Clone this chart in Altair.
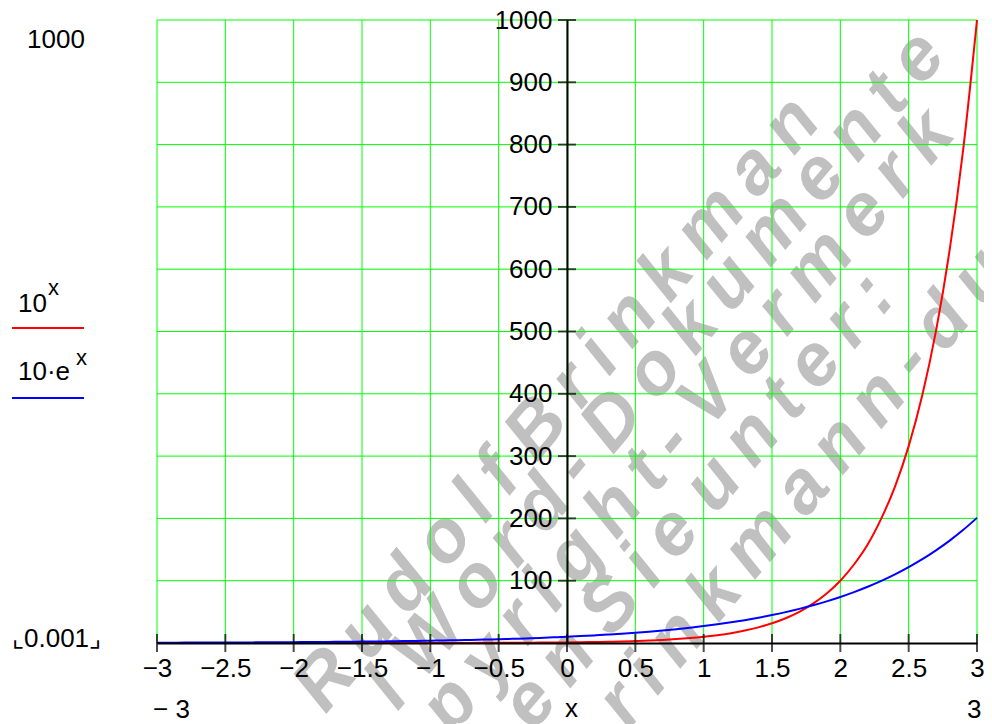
import altair as alt
import pandas as pd

# ---------------- data ----------------
x_vals = [-3.0, -2.9, -2.8, -2.7, -2.6, -2.5, -2.4, -2.3, -2.2, -2.1,
          -2.0, -1.9, -1.8, -1.7, -1.6, -1.5, -1.4, -1.3, -1.2, -1.1,
          -1.0, -0.9, -0.8, -0.7, -0.6, -0.5, -0.4, -0.3, -0.2, -0.1,
          0.0, 0.1, 0.2, 0.3, 0.4, 0.5, 0.6, 0.7, 0.8, 0.9,
          1.0, 1.1, 1.2, 1.3, 1.4, 1.5, 1.6, 1.7, 1.8, 1.9,
          2.0, 2.1, 2.2, 2.3, 2.4, 2.5, 2.6, 2.7, 2.8, 2.9, 3.0]

# 10^x
red_vals = [0.001, 0.0013, 0.0016, 0.002, 0.0025, 0.0032, 0.004, 0.005, 0.0063, 0.0079,
            0.01, 0.0126, 0.0158, 0.02, 0.0251, 0.0316, 0.0398, 0.0501, 0.0631, 0.0794,
            0.1, 0.126, 0.158, 0.2, 0.251, 0.316, 0.398, 0.501, 0.631, 0.794,
            1.0, 1.26, 1.58, 2.0, 2.51, 3.16, 3.98, 5.01, 6.31, 7.94,
            10.0, 12.6, 15.8, 20.0, 25.1, 31.6, 39.8, 50.1, 63.1, 79.4,
            100.0, 126.0, 158.0, 200.0, 251.0, 316.0, 398.0, 501.0, 631.0, 794.0, 1000.0]

# 10*e^x
blue_vals = [0.498, 0.55, 0.608, 0.672, 0.743, 0.821, 0.907, 1.003, 1.108, 1.225,
             1.353, 1.496, 1.653, 1.827, 2.019, 2.231, 2.466, 2.725, 3.012, 3.329,
             3.679, 4.066, 4.493, 4.966, 5.488, 6.065, 6.703, 7.408, 8.187, 9.048,
             10.0, 11.05, 12.21, 13.5, 14.92, 16.49, 18.22, 20.14, 22.26, 24.6,
             27.18, 30.04, 33.2, 36.69, 40.55, 44.82, 49.53, 54.74, 60.5, 66.86,
             73.89, 81.66, 90.25, 99.74, 110.2, 121.8, 134.6, 148.8, 164.4, 181.7, 200.9]

series_names = ["10^x", "10·e^x"]
series_colors = ["#ff0000", "#0000ff"]

x_ticks = [-3, -2.5, -2, -1.5, -1, -0.5, 0, 0.5, 1, 1.5, 2, 2.5, 3]
y_ticks = [100, 200, 300, 400, 500, 600, 700, 800, 900, 1000]

watermark_lines = ["Rudolf Brinkman", "l Word- Dokumente", "pyright- Vermerk",
                   "en Sie unter:", "rinkmann-du.de"]

FONT = "Liberation Sans, Arial, sans-serif"

# ---------------- tables ----------------
curve_df = pd.DataFrame({
    "x": x_vals * 2,
    "value": red_vals + blue_vals,
    "series": [series_names[0]] * len(x_vals) + [series_names[1]] * len(x_vals),
})

xscale = alt.Scale(domain=[-3, 3], nice=False, zero=False)
yscale = alt.Scale(domain=[0, 1000], nice=False, zero=False)

common_axis = dict(grid=False, ticks=False, domain=True, domainColor="black",
                   domainWidth=2, labelFontSize=26, labelFont=FONT,
                   labelColor="black", labelOverlap=False, labelFlush=False,
                   title=None, zindex=1)

x_axis = alt.Axis(values=x_ticks, labelPadding=12, format="~g", **common_axis)
y_axis = alt.Axis(values=y_ticks, labelPadding=15, offset=-410, format="d", **common_axis)


def X(field):
    return alt.X(field, scale=xscale, axis=x_axis)


def Y(field):
    return alt.Y(field, scale=yscale, axis=y_axis)


def one(txt):
    return pd.DataFrame({"t": [txt]})


def label(txt, x, y, size=26, align="left", baseline="alphabetic"):
    return alt.Chart(one(txt)).mark_text(
        align=align, baseline=baseline, fontSize=size, font=FONT, color="black"
    ).encode(x=alt.value(x), y=alt.value(y), text="t:N")


def spaced(s):
    # the watermark is set with a little extra letter spacing
    return " ".join("\u2009".join(list(w)) for w in s.split(" "))


# watermark (drawn first, beneath everything)
wm_pos = [(649, 88, "right"), (774, 22, "right"), (783, 101, "right"),
          (724, 264, "right"), (455, 696, "left")]
wm_layers = []
for txt, (px, py, al) in zip(watermark_lines, wm_pos):
    wm_layers.append(
        alt.Chart(one(spaced(txt))).mark_text(
            align=al, baseline="middle", angle=310, fontSize=74, font=FONT,
            fontStyle="italic", fontWeight="bold", color="#c0c0c0"
        ).encode(x=alt.value(px), y=alt.value(py), text="t:N")
    )

# grid
xgrid = alt.Chart(pd.DataFrame({"x": x_ticks})).mark_rule(
    color="#00ff00", strokeWidth=1
).encode(x=X("x:Q"))

ygrid = alt.Chart(pd.DataFrame({"y": y_ticks})).mark_rule(
    color="#00ff00", strokeWidth=1
).encode(y=Y("y:Q"))

# curves
curves = alt.Chart(curve_df).mark_line(strokeWidth=2, interpolate="monotone").encode(
    x=X("x:Q"),
    y=Y("value:Q"),
    color=alt.Color("series:N", scale=alt.Scale(domain=series_names, range=series_colors),
                    legend=None),
)

# crossing tick marks on both axes
ytick_marks = alt.Chart(pd.DataFrame({"y": y_ticks, "x": [0] * len(y_ticks)})).mark_tick(
    orient="horizontal", size=18, thickness=2, color="black"
).encode(x=X("x:Q"), y=Y("y:Q"))

xtick_marks = alt.Chart(pd.DataFrame({"x": x_ticks, "y": [0] * len(x_ticks)})).mark_tick(
    orient="vertical", size=18, thickness=2, color="black"
).encode(x=X("x:Q"), y=Y("y:Q"))

# legend on the left
leg_red = alt.Chart(one("r")).mark_rule(color=series_colors[0], strokeWidth=2).encode(
    x=alt.value(-145), x2=alt.value(-73), y=alt.value(308))
leg_blue = alt.Chart(one("b")).mark_rule(color=series_colors[1], strokeWidth=2).encode(
    x=alt.value(-145), x2=alt.value(-73), y=alt.value(378))

texts = [
    label("10", -139, 292),
    label("x", -109, 275, size=22),
    label("10·e", -139, 360),
    label("x", -81, 345, size=22),
    label("1000", -130, 28),
    label("⌞0.001⌟", -145, 627),
    label("− 3", -4, 698),
    label("3", 810, 698),
    label("x", 408, 697),
]

chart = alt.layer(
    *wm_layers, xgrid, ygrid, curves, ytick_marks, xtick_marks, leg_red, leg_blue, *texts
).properties(
    width=820, height=623,
    autosize=alt.AutoSizeParams(type="none"),
    padding={"left": 149, "top": 12, "right": 7, "bottom": 81},
    background="white",
).configure_view(stroke=None)

chart.save("out.html", embed_options={"renderer": "svg", "actions": False})
